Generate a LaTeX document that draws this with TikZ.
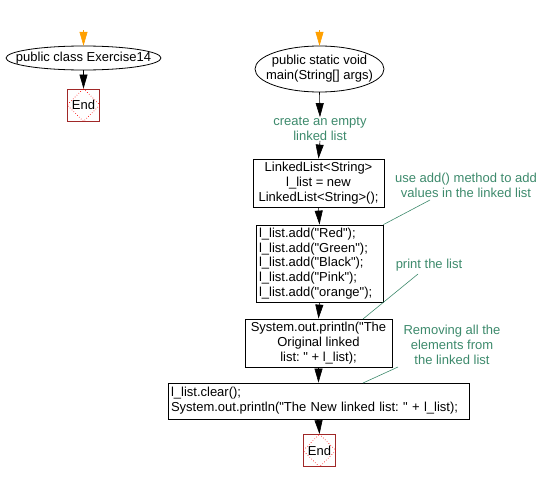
\documentclass[tikz,border=0pt]{standalone}
\usepackage{fontspec}
\setmainfont{Liberation Sans}
\usetikzlibrary{shapes.geometric,arrows.meta}
\definecolor{notegreen}{RGB}{61,138,108}
\definecolor{endred}{RGB}{160,40,40}
\definecolor{startorange}{RGB}{255,160,0}
\newcommand{\dq}{\textquotedbl}
\frenchspacing
\begin{document}
\begin{tikzpicture}[x=1pt,y=-1pt,
  every node/.style={font=\fontsize{13}{14.75}\selectfont\frenchspacing, inner sep=0pt},
  term/.style={rectangle, align=center},
  procbox/.style={rectangle, draw, line width=0.8pt},
  endbox/.style={rectangle, draw=endred, line width=0.8pt, minimum width=32pt, minimum height=32pt},
  note/.style={text=notegreen, align=center},
  flow/.style={line width=0.6pt, -{Triangle[length=14pt,width=8pt]}},
  startflow/.style={draw=startorange, line width=0.6pt, -{Triangle[length=14pt,width=8pt,fill=startorange]}},
  noteline/.style={draw=notegreen, line width=0.6pt}]
\useasboundingbox (0,0) rectangle (544,482);

% left column
\coordinate (s1) at (83.5,30);
\node[term, minimum width=155pt, minimum height=24pt] (e1) at (83.5,58) {public class Exercise14};
\draw[line width=0.8pt] (e1.center) ellipse [x radius=77.5, y radius=12];
\node[endbox] (end1) at (83.5,105) {End};
\draw[red, dotted, line width=0.6pt] (end1.north) -- (end1.east) -- (end1.south) -- (end1.west) -- cycle;
\draw[startflow] (s1) -- (e1.north);
\draw[flow] (e1.south) -- (end1.north);

% right column
\coordinate (s2) at (319.5,30);
\node[term, minimum width=129pt, minimum height=46pt] (e2) at (319.5,69) {public static void\\main(String[] args)};
\draw[line width=0.8pt] (e2.center) ellipse [x radius=64.5, y radius=23];
\node[note] (c1) at (320,129) {create an empty\\linked list};
\node[procbox, minimum width=131pt, minimum height=48pt, align=center] (b1) at (318.5,183)
  {LinkedList<String>\\l\_list = new\\LinkedList<String>();};
\node[procbox, minimum width=127pt, minimum height=77pt, text width=121pt, align=left] (b2) at (319.5,263.5)
  {l\_list.add(\dq Red\dq);\\l\_list.add(\dq Green\dq);\\l\_list.add(\dq Black\dq);\\l\_list.add(\dq Pink\dq);\\l\_list.add(\dq orange\dq);};
\node[procbox, minimum width=147pt, minimum height=48pt, align=center] (b3) at (318.5,343)
  {System.out.println(\dq The\\Original linked\\list: \dq{} + l\_list);};
\node[procbox, minimum width=301pt, minimum height=36pt, text width=295pt, align=left] (b4) at (318.5,401)
  {l\_list.clear();\\System.out.println(\dq The New linked list: \dq{} + l\_list);};
\node[endbox] (end2) at (319.5,450.5) {End};
\draw[red, dotted, line width=0.6pt] (end2.north) -- (end2.east) -- (end2.south) -- (end2.west) -- cycle;

\draw[startflow] (s2) -- (e2.north);
\draw[flow] (e2.south) -- (c1.north);
\draw[flow] (c1.south) -- (b1.north);
\draw[flow] (b1.south) -- (b2.north);
\draw[flow] (b2.south) -- (b3.north);
\draw[flow] (b3.south) -- (b4.north);
\draw[flow] (b4.south) -- (end2.north);

% comments
\node[note] (c2) at (466,185.5) {use add() method to add\\values in the linked list};
\node[note] (c3) at (429,265) {print the list};
\node[note] (c4) at (452,345) {Removing all the\\elements from\\the linked list};
\coordinate (p2) at (430,200);
\coordinate (p3) at (418,274);
\coordinate (p4) at (398,367);
\coordinate (q3) at (363,319);
\coordinate (q4) at (363,383);
\draw[noteline] (b2.north east) -- (p2);
\draw[noteline] (q3) -- (p3);
\draw[noteline] (q4) -- (p4);
\end{tikzpicture}
\end{document}
